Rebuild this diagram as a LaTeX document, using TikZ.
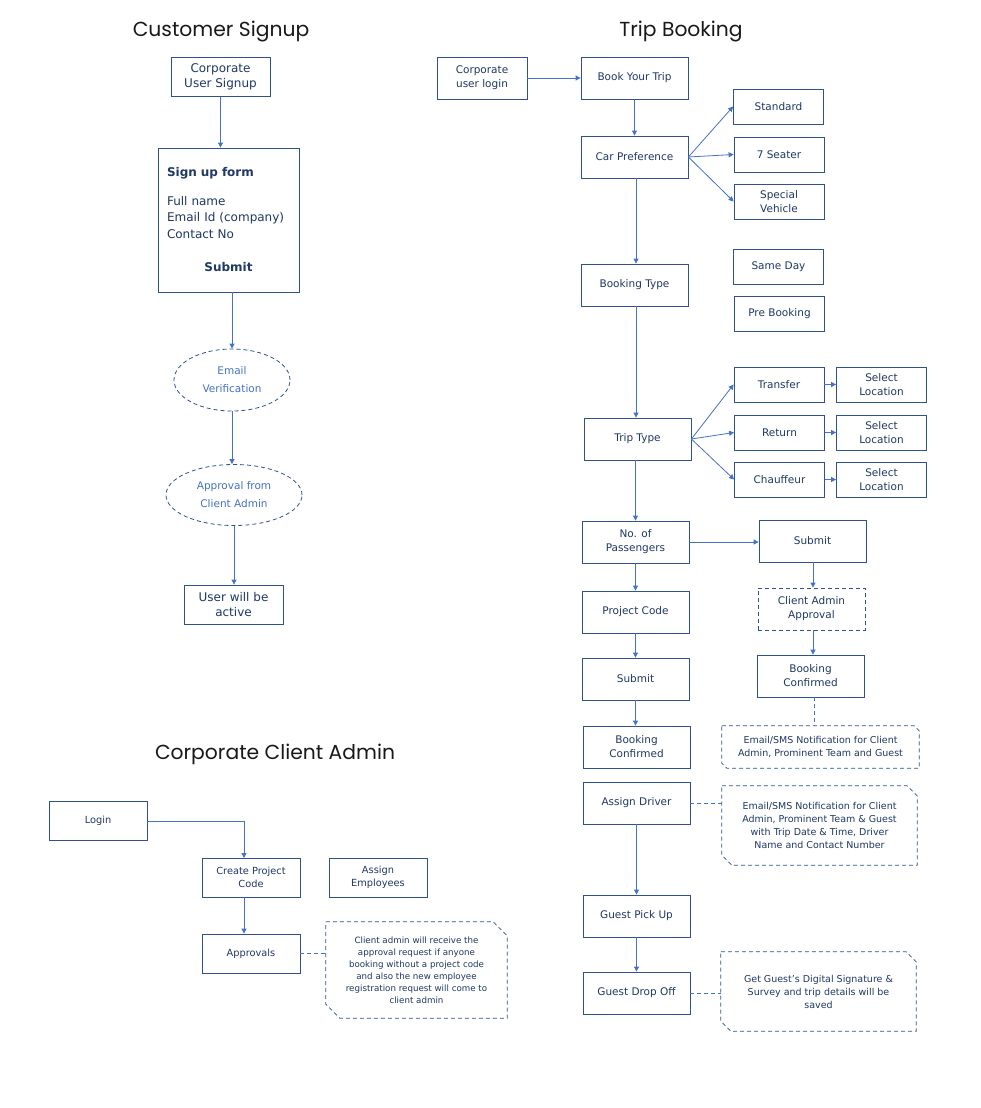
\documentclass[tikz,border=0pt]{standalone}
\usepackage{fontspec}
\setmainfont{DejaVu Sans}
\newfontfamily\titlefont{Poppins}
\usetikzlibrary{shapes.geometric,arrows.meta}
\definecolor{boxblue}{HTML}{2F528F}
\definecolor{txtblue}{HTML}{1F3864}
\definecolor{arrblue}{HTML}{4472C4}
% dashed note outline with two cut corners
\newcommand{\notecut}[2]{%
    \draw[notedash] (#1.north west) -- ([xshift=-#2]#1.north east) -- ([yshift=-#2]#1.north east)
        -- (#1.south east) -- ([xshift=#2]#1.south west) -- ([yshift=#2]#1.south west) -- cycle;}
\begin{document}
\begin{tikzpicture}[x=1pt,y=-1pt,
    box/.style={draw=boxblue,line width=0.8pt,text=txtblue,align=center,inner sep=2pt,font=\fontsize{10.5}{14}\selectfont},
    flow/.style={box,minimum width=107pt,minimum height=42pt},
    pick/.style={box,minimum width=90pt,minimum height=35pt},
    admin/.style={box,minimum width=98pt,minimum height=39pt,font=\fontsize{9.8}{13}\selectfont},
    oval/.style={ellipse,draw=boxblue,dash pattern=on 4pt off 3pt,line width=0.8pt,text=arrblue,align=center,inner sep=0pt,font=\fontsize{10.5}{18}\selectfont},
    note/.style={text=txtblue,align=center,inner sep=0pt,font=\fontsize{9.5}{13}\selectfont},
    notedash/.style={draw=boxblue,dash pattern=on 4pt off 3pt,line width=0.8pt},
    arr/.style={draw=arrblue,line width=0.8pt,-{Triangle[width=5pt,length=5pt]}},
    link/.style={draw=arrblue,line width=0.8pt,dash pattern=on 4pt off 3pt},
    title/.style={font=\titlefont\fontsize{20.3}{24}\selectfont,text=black!90}]
    \fill[white] (0,0) rectangle (980,1108);
    %customer signup
    \node[title] (t1) at (221,32) {Customer Signup};
    \node[box,minimum width=99pt,minimum height=39pt,font=\fontsize{12}{15}\selectfont] (cus) at (220.5,77) {Corporate\\User Signup};
    \node[box,minimum width=141pt,minimum height=144pt,text width=123pt,align=left,font=\fontsize{12}{16.5}\selectfont] (form) at (228.5,220)
        {\textbf{Sign up form}\\[12pt]Full name\\Email Id (company)\\Contact No\\[17pt]\makebox[123pt]{\textbf{Submit}}};
    \node[oval,minimum width=116pt,minimum height=62pt] (ev) at (232,380) {Email\\Verification};
    \node[oval,minimum width=136pt,minimum height=61pt] (ca) at (234,495) {Approval from\\Client Admin};
    \node[box,minimum width=99pt,minimum height=39pt,font=\fontsize{12}{15}\selectfont] (act) at (233.5,604.5) {User will be\\active};
    \draw[arr] (cus) -- (cus |- form.north);
    \draw[arr] (form.south -| ev) -- (ev);
    \draw[arr] (ev.south) -- (ev.south |- ca.north);
    \draw[arr] (ca) -- (ca |- act.north);
    %trip booking
    \node[title] (t2) at (681,32) {Trip Booking};
    \node[box,minimum width=90pt,minimum height=42pt] (ulogin) at (482,78) {Corporate\\user login};
    \node[flow] (book) at (634.5,78) {Book Your Trip};
    \node[flow] (car) at (634.5,157) {Car Preference};
    \node[pick] (std) at (778.5,106.5) {Standard};
    \node[pick] (seat) at (779,154.5) {7 Seater};
    \node[pick] (spec) at (779,201.5) {Special\\Vehicle};
    \node[flow] (btype) at (634.5,285) {Booking Type};
    \node[pick] (same) at (778.5,267) {Same Day};
    \node[pick] (pre) at (779.5,313.5) {Pre Booking};
    \node[flow] (ttype) at (637.5,439) {Trip Type};
    \node[pick] (trans) at (779,384.5) {Transfer};
    \node[pick] (ret) at (779.5,432.5) {Return};
    \node[pick] (chauf) at (779.5,479.5) {Chauffeur};
    \foreach \y/\n in {384.5/1,432.5/2,479.5/3}
        \node[pick] (loc\n) at (881.5,\y) {Select\\Location};
    \node[flow] (pass) at (635.5,542) {No. of\\Passengers};
    \node[flow] (subr) at (812.5,541) {Submit};
    \node[flow] (pcode) at (635.5,612) {Project Code};
    \node[flow] (subl) at (635.5,679) {Submit};
    \node[flow] (confl) at (636.5,747) {Booking\\Confirmed};
    \node[flow,dash pattern=on 4pt off 3pt] (apprv) at (811.5,609) {Client Admin\\Approval};
    \node[flow] (confr) at (810.5,676) {Booking\\Confirmed};
    \node[note,minimum width=197pt,minimum height=42pt] (n1) at (820.5,747) {Email/SMS Notification for Client\\Admin, Prominent Team and Guest};
    \node[flow] (drv) at (636.5,803) {Assign Driver};
    \node[note,minimum width=195pt,minimum height=79pt] (n2) at (819.5,825.5)
        {Email/SMS Notification for Client\\Admin, Prominent Team \& Guest\\with Trip Date \& Time, Driver\\Name and Contact Number};
    \node[flow] (pickup) at (636.5,916) {Guest Pick Up};
    \node[flow] (drop) at (636.5,993) {Guest Drop Off};
    \node[note,minimum width=195pt,minimum height=79pt] (n3) at (818.5,991.5)
        {Get Guest’s Digital Signature \&\\Survey and trip details will be\\saved};
    \notecut{n1}{5pt}
    \notecut{n2}{10pt}
    \notecut{n3}{10pt}
    \draw[arr] (ulogin) -- (book);
    \draw[arr] (book) -- (car);
    \draw[arr] (car.east) -- (std.west);
    \draw[arr] (car.east) -- (seat.west);
    \draw[arr] (car.east) -- (spec.west);
    \draw[arr] (car.south -| 636,0) -- (btype.north -| 636,0);
    \draw[arr] (btype.south -| 636,0) -- (ttype.north -| 636,0);
    \draw[arr] (ttype.east) -- (trans.west);
    \draw[arr] (ttype.east) -- (ret.west);
    \draw[arr] (ttype.east) -- (chauf.west);
    \draw[arr] (trans) -- (loc1);
    \draw[arr] (ret) -- (loc2);
    \draw[arr] (chauf) -- (loc3);
    \draw[arr] (ttype.south -| pass) -- (pass);
    \draw[arr] (pass.east) -- (pass.east -| subr.west);
    \draw[arr] (pass) -- (pcode);
    \draw[arr] (pcode) -- (subl);
    \draw[arr] (subl.south) -- (subl.south |- confl.north);
    \draw[arr] (subr.south -| 813,0) -- (apprv.north -| 813,0);
    \draw[arr] (apprv.south -| 813,0) -- (confr.north -| 813,0);
    \draw[link] (confr.south -| 814,0) -- (n1.north -| 814,0);
    \draw[link] (drv.east) -- (drv.east -| n2.west);
    \draw[arr] (drv) -- (pickup);
    \draw[arr] (pickup) -- (drop);
    \draw[link] (drop.east) -- (drop.east -| n3.west);
    %corporate client admin
    \node[title] (t3) at (275,754) {Corporate Client Admin};
    \node[admin] (clogin) at (98,821) {Login};
    \node[admin] (cpc) at (251,877.5) {Create Project\\Code};
    \node[admin] (emp) at (378,877.5) {Assign\\Employees};
    \node[admin] (appr) at (251,953.5) {Approvals};
    \node[note,minimum width=181pt,minimum height=96pt,font=\fontsize{8.7}{12}\selectfont] (n4) at (416.5,970)
        {Client admin will receive the\\approval request if anyone\\booking without a project code\\and also the new employee\\registration request will come to\\client admin};
    \notecut{n4}{14pt}
    \coordinate (cpctop) at (244,858);
    \draw[arr] (clogin.east) -| (cpctop);
    \draw[arr] (cpc.south -| cpctop) -- (appr.north -| cpctop);
    \draw[link] (appr.east) -- (appr.east -| n4.west);
\end{tikzpicture}
\end{document}
